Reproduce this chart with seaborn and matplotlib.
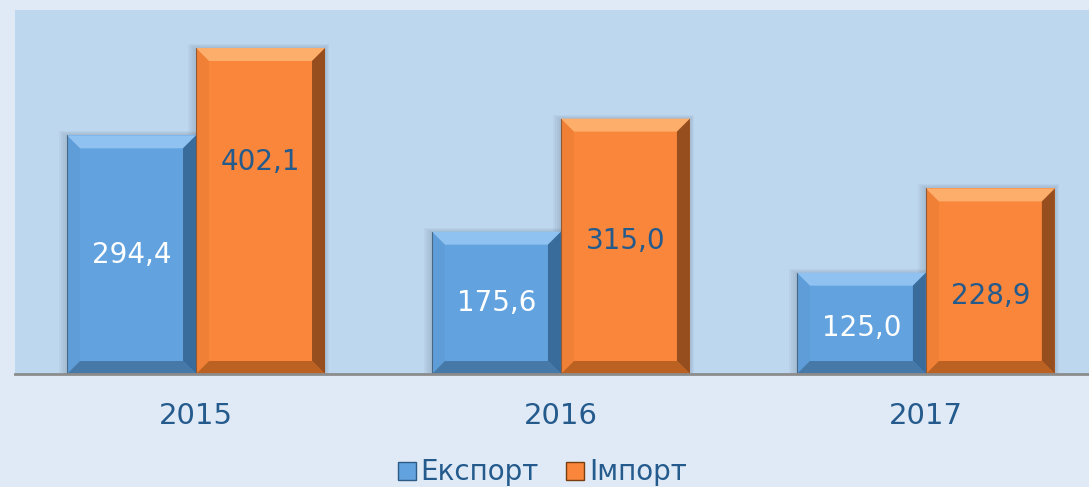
import numpy as np
import seaborn as sns
import pandas as pd
import matplotlib.pyplot as plt
from matplotlib.patches import Polygon, Rectangle
from matplotlib.lines import Line2D

# data
years = ['2015', '2016', '2017']
series = ['Експорт', 'Імпорт']
export_vals = [294.4, 175.6, 125.0]
import_vals = [402.1, 315.0, 228.9]

df = pd.DataFrame({
    'year': years * 2,
    'type': [series[0]] * 3 + [series[1]] * 3,
    'value': export_vals + import_vals,
})

blue = '#62a3df'
orange = '#f9863a'
text_dark = '#245a8c'

sns.set_theme(style='white')
plt.rcParams['font.family'] = ['DejaVu Sans']

fig = plt.figure(figsize=(10.89, 4.87), dpi=100)
fig.patch.set_facecolor('#dfeaf6')
ax = fig.add_axes([15 / 1089, 1 - 374 / 487, 1 - 15 / 1089, 364 / 487])
ax.set_facecolor('#bdd7ee')

sns.barplot(data=df, x='year', y='value', hue='type', palette=[blue, orange],
            width=0.707, saturation=1, ax=ax, legend=False, linewidth=0)

ax.set_xlim(-0.496, 2.447)
ax.set_ylim(0, 449)

# pixel -> data unit helpers
px_x = (2.447 + 0.496) / 1074
px_y = 449 / 364
bx, by = 13 * px_x, 13 * px_y

shade = {blue: ('#8fc2f0', '#34638f', '#41719f', '#4f88bf'),
         orange: ('#fcae6a', '#86451a', '#b05c20', '#d06c28')}

for cont, col in zip(ax.containers, [blue, orange]):
    top_c, right_c, bot_c, left_c = shade[col]
    for bar in cont:
        x0, w, h = bar.get_x(), bar.get_width(), bar.get_height()
        x1 = x0 + w
        # soft shadow
        for k in range(1, 5):
            ax.add_patch(Rectangle((x0 - k * 2 * px_x, 0), w + k * 3 * px_x, h + k * 1 * px_y,
                                   color='#4a5a6a', alpha=0.05, zorder=bar.get_zorder() - 0.5, lw=0))
        z = bar.get_zorder() + 0.1
        ax.add_patch(Polygon([(x0, h), (x1, h), (x1 - bx, h - by), (x0 + bx, h - by)],
                             closed=True, color=top_c, lw=0, zorder=z))
        ax.add_patch(Polygon([(x1, h), (x1, 0), (x1 - bx, by), (x1 - bx, h - by)],
                             closed=True, color=right_c, lw=0, zorder=z, alpha=0.85))
        ax.add_patch(Polygon([(x0, 0), (x1, 0), (x1 - bx, by), (x0 + bx, by)],
                             closed=True, color=bot_c, lw=0, zorder=z, alpha=0.85))
        ax.add_patch(Polygon([(x0, 0), (x0, h), (x0 + bx, h - by), (x0 + bx, by)],
                             closed=True, color=left_c, lw=0, zorder=z, alpha=0.2))
        # thin dark outline on the left edge
        ax.plot([x0, x0], [0, h], color='#333333', lw=0.8, alpha=0.5, zorder=z)

# label heights as a fraction of bar height (as placed in the original)
export_label_frac = [0.5, 0.5, 0.45]
import_label_frac = [0.65, 0.52, 0.42]

for cont, tc, fracs in zip(ax.containers, ['white', text_dark], [export_label_frac, import_label_frac]):
    for bar, v, f in zip(cont, cont.datavalues, fracs):
        ax.text(bar.get_x() + bar.get_width() / 2, v * f, f'{v:.1f}'.replace('.', ','),
                ha='center', va='center', color=tc, fontsize=20, zorder=10)

for s in ['top', 'right', 'left']:
    ax.spines[s].set_visible(False)
ax.spines['bottom'].set_color('#8c8c8c')
ax.spines['bottom'].set_linewidth(2)
ax.set_yticks([])
ax.set_xlabel('')
ax.set_ylabel('')
ax.tick_params(axis='x', length=0, pad=20, labelsize=21, labelcolor=text_dark)

handles = [Line2D([], [], marker='s', ls='', markersize=13, markerfacecolor=blue, markeredgecolor='#2d5b87'),
           Line2D([], [], marker='s', ls='', markersize=13, markerfacecolor=orange, markeredgecolor='#7a3d10')]
leg = fig.legend(handles, series, loc='center', bbox_to_anchor=(0.497, 0.03), ncol=2, frameon=False,
                 fontsize=20, handletextpad=0.1, columnspacing=0.9, handlelength=0.8)
for t in leg.get_texts():
    t.set_color(text_dark)

fig.savefig('out.png', dpi=100, facecolor=fig.get_facecolor())
